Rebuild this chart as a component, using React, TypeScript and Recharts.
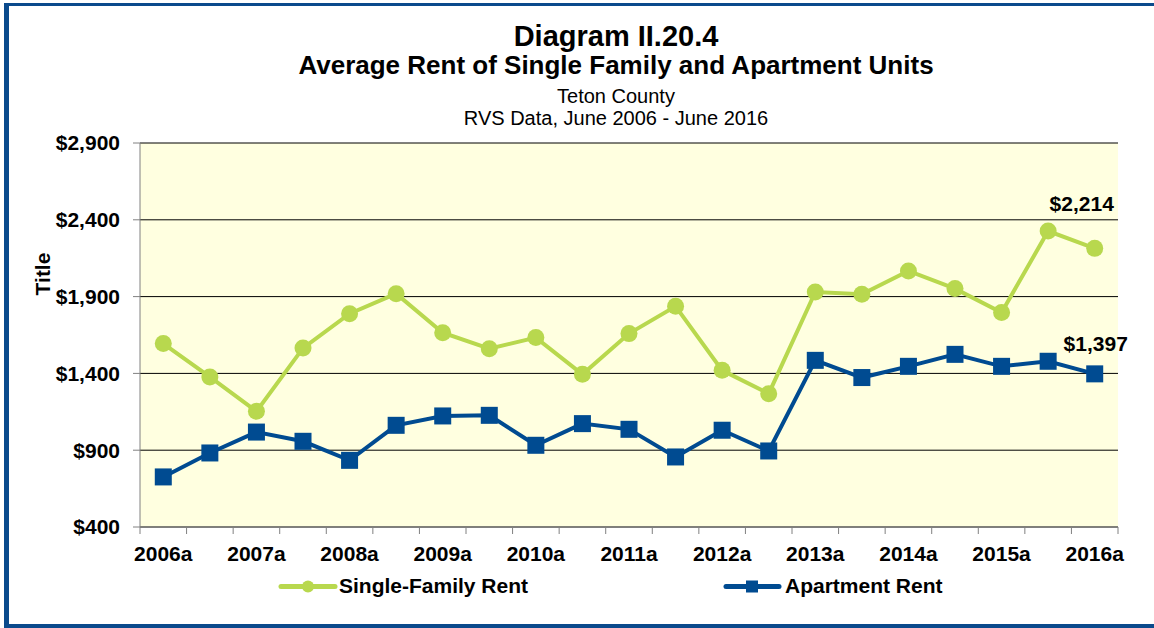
import React from 'react';
import { LineChart, Line, XAxis, YAxis, CartesianGrid, LabelList, Label } from 'recharts';

const categories = [
  '2006a', '2006b', '2007a', '2007b', '2008a', '2008b', '2009a', '2009b', '2010a', '2010b',
  '2011a', '2011b', '2012a', '2012b', '2013a', '2013b', '2014a', '2014b', '2015a', '2015b', '2016a',
];
const singleFamilyRent = [
  1594, 1377, 1153, 1565, 1789, 1919, 1665, 1561, 1633, 1394,
  1659, 1837, 1420, 1268, 1930, 1915, 2067, 1952, 1796, 2327, 2214,
];
const apartmentRent = [
  726, 882, 1018, 958, 834, 1062, 1123, 1127, 932, 1073,
  1036, 856, 1030, 895, 1485, 1373, 1446, 1524, 1446, 1479, 1397,
];
const yTicks = [400, 900, 1400, 1900, 2400, 2900];

const GREEN = '#B8D84E';
const BLUE = '#004B91';
const FONT = '"Liberation Sans", Arial, sans-serif';
const LABEL_SIZE = 21;

const data = categories.map((name, i) => ({
  name,
  singleFamily: singleFamilyRent[i],
  apartment: apartmentRent[i],
}));

const PLOT_W = 978;
const BAND = PLOT_W / categories.length;

const money = (v: number): string => `$${v.toLocaleString('en-US')}`;

function XTick(props: any): React.ReactElement {
  const { x, y, index, payload } = props;
  return (
    <g>
      {index === 0 && <line x1={x - BAND / 2} x2={x - BAND / 2} y1={y} y2={y + 7} stroke="#808080" />}
      <line x1={x + BAND / 2} x2={x + BAND / 2} y1={y} y2={y + 7} stroke="#808080" />
      {index % 2 === 0 && (
        <text x={x} y={y + 34} textAnchor="middle" fontSize={LABEL_SIZE} fontWeight="bold" fill="#000" fontFamily={FONT}>
          {payload.value}
        </text>
      )}
    </g>
  );
}

function endLabel(dx: number, dy: number) {
  return (props: any): React.ReactElement | null => {
    const { x, y, value, index } = props;
    if (index !== categories.length - 1) return null;
    return (
      <text x={x + dx} y={y + dy} textAnchor="middle" fontSize={LABEL_SIZE} fontWeight="bold" fill="#000" fontFamily={FONT}>
        {money(value)}
      </text>
    );
  };
}

function SquareDot(props: any): React.ReactElement {
  const { cx, cy, index } = props;
  return <rect key={`sq-${index}`} x={cx - 8.5} y={cy - 8.5} width={17} height={17} fill={BLUE} />;
}

export default function App(): React.ReactElement {
  return (
    <div style={{ position: 'absolute', left: 0, top: 0, width: 1154, height: 628, background: '#fff', fontFamily: FONT }}>
      <div
        style={{
          position: 'absolute',
          left: 4,
          top: 3,
          width: 1150,
          height: 625,
          boxSizing: 'border-box',
          borderLeft: `5px solid #0A4A8C`,
          borderTop: `3px solid #0A4A8C`,
          borderBottom: `4px solid #0A4A8C`,
        }}
      />
      <svg width={1154} height={628} style={{ position: 'absolute', left: 0, top: 0 }}>
        <g fontFamily={FONT} fill="#000" textAnchor="middle">
          <text x={616} y={46} fontSize={29} fontWeight="bold">Diagram II.20.4</text>
          <text x={616} y={74} fontSize={26} fontWeight="bold">Average Rent of Single Family and Apartment Units</text>
          <text x={616} y={103} fontSize={20}>Teton County</text>
          <text x={616} y={125} fontSize={20}>RVS Data, June 2006 - June 2016</text>
        </g>
        <g>
          <line x1={281} x2={335} y1={586.5} y2={586.5} stroke={GREEN} strokeWidth={5} strokeLinecap="round" />
          <circle cx={308} cy={586.5} r={6} fill={GREEN} />
          <text x={339} y={593} fontSize={LABEL_SIZE} fontWeight="bold" fontFamily={FONT} fill="#000">Single-Family Rent</text>
          <line x1={726} x2={779} y1={586.5} y2={586.5} stroke={BLUE} strokeWidth={5} strokeLinecap="round" />
          <rect x={746} y={580.5} width={12} height={12} fill={BLUE} />
          <text x={785} y={593} fontSize={LABEL_SIZE} fontWeight="bold" fontFamily={FONT} fill="#000">Apartment Rent</text>
        </g>
      </svg>
      <div style={{ position: 'absolute', left: 0, top: 0 }}>
        <LineChart width={1154} height={628} data={data} margin={{ top: 143, right: 36, bottom: 71, left: 0 }}>
          <CartesianGrid vertical={false} stroke="#000" fill="#FFFFE0" />
          <XAxis
            dataKey="name"
            interval={0}
            height={30}
            padding={{ left: BAND / 2, right: BAND / 2 }}
            tickLine={false}
            tickSize={0}
            tickMargin={0}
            axisLine={{ stroke: '#808080' }}
            tick={<XTick />}
          />
          <YAxis
            width={140}
            domain={[400, 2900]}
            ticks={yTicks}
            interval={0}
            tickFormatter={money}
            tickSize={7}
            tickMargin={13}
            axisLine={{ stroke: '#808080' }}
            tickLine={{ stroke: '#808080' }}
            tick={{ fill: '#000', fontSize: LABEL_SIZE, fontWeight: 'bold', fontFamily: FONT }}
          >
            <Label
              content={() => (
                <text
                  x={42}
                  y={274}
                  transform="rotate(-90 42 274)"
                  textAnchor="middle"
                  dominantBaseline="central"
                  fontSize={LABEL_SIZE}
                  fontWeight="bold"
                  fontFamily={FONT}
                  fill="#000"
                >
                  Title
                </text>
              )}
            />
          </YAxis>
          <Line
            dataKey="singleFamily"
            name="Single-Family Rent"
            stroke={GREEN}
            strokeWidth={4}
            dot={{ r: 8.5, fill: GREEN, stroke: GREEN, strokeWidth: 0 }}
            activeDot={false}
            isAnimationActive={false}
          >
            <LabelList dataKey="singleFamily" content={endLabel(-13, -37)} />
          </Line>
          <Line
            dataKey="apartment"
            name="Apartment Rent"
            stroke={BLUE}
            strokeWidth={4}
            dot={SquareDot}
            activeDot={false}
            isAnimationActive={false}
          >
            <LabelList dataKey="apartment" content={endLabel(1, -23)} />
          </Line>
        </LineChart>
      </div>
    </div>
  );
}
